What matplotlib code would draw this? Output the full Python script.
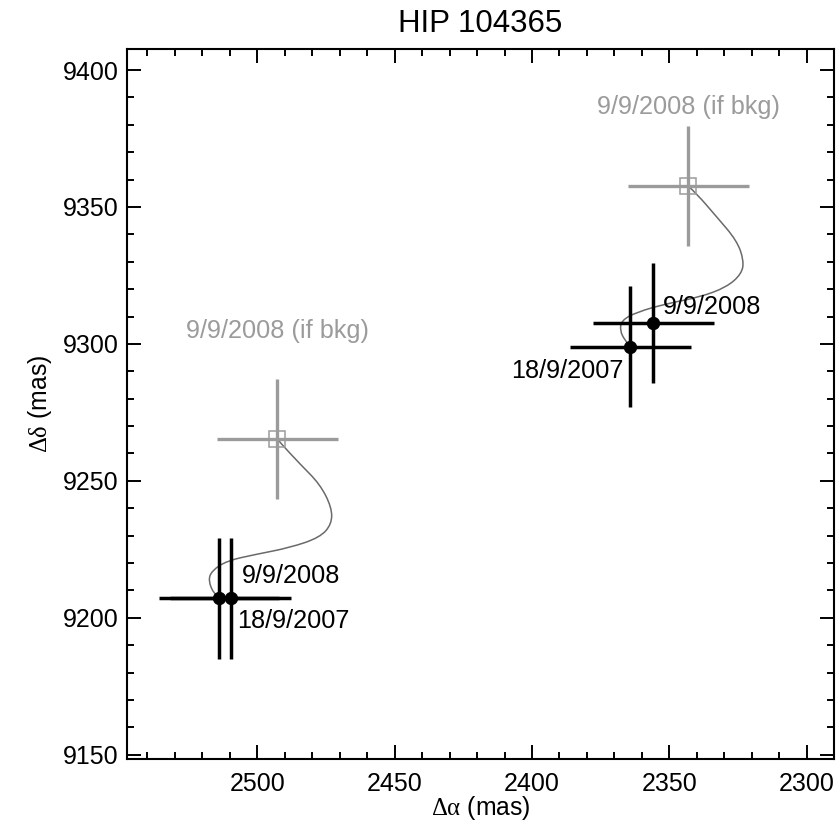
import matplotlib
matplotlib.use("Agg")
import matplotlib.pyplot as plt
from matplotlib.path import Path
from matplotlib.patches import PathPatch
from matplotlib.ticker import MultipleLocator

plt.rcParams['font.family'] = ['Liberation Sans', 'DejaVu Sans']
plt.rcParams['mathtext.fontset'] = 'custom'
plt.rcParams['mathtext.rm'] = 'Liberation Serif'
plt.rcParams['mathtext.it'] = 'Liberation Serif'

# ---- data (mas) ----
title = "HIP 104365"
# observed companion positions (two candidates)
obs_ra_2007 = [2513.9, 2364.3]
obs_dec_2007 = [9207.1, 9299.0]
obs_ra_2008 = [2509.7, 2355.9]
obs_dec_2008 = [9207.1, 9307.6]
obs_err = [22.0, 22.0]
# predicted position if background object
bkg_ra = [2492.7, 2343.1]
bkg_dec = [9265.3, 9357.6]
bkg_err = [22.0, 22.0]
# background tracks (traced)
track1_ra = [2492.7, 2491.7, 2484.4, 2477.2, 2472.9, 2472.9, 2477.2, 2488.1,
             2500.2, 2511.1, 2516.6, 2517.8, 2515.7, 2513.9]
track1_dec = [9265.3, 9264.0, 9256.1, 9248.8, 9240.3, 9234.2, 9229.3, 9225.6,
              9223.2, 9220.8, 9217.1, 9213.5, 9208.6, 9207.1]
track2_ra = [2343.1, 2340.1, 2332.8, 2325.5, 2322.9, 2323.7, 2329.2, 2338.9,
             2351.0, 2361.9, 2367.4, 2368.0, 2366.2, 2364.3]
track2_dec = [9357.6, 9354.9, 9346.4, 9337.8, 9330.5, 9325.6, 9320.7, 9317.1,
              9314.7, 9311.6, 9308.6, 9304.9, 9301.3, 9299.0]
label_2007 = "18/9/2007"
label_2008 = "9/9/2008"
label_bkg = "9/9/2008 (if bkg)"

fig = plt.figure(figsize=(8.38, 8.22), dpi=100)
ax = fig.add_axes([0.1512, 0.0766, 0.8440, 0.8638])

gray = '#9b9b9b'
trackc = '#6a6a6a'


def smooth_path(xs, ys):
    pts = list(zip(xs, ys))
    verts = [pts[0]]
    codes = [Path.MOVETO]
    for i in range(1, len(pts) - 1):
        mid = ((pts[i][0] + pts[i + 1][0]) / 2, (pts[i][1] + pts[i + 1][1]) / 2)
        if i == len(pts) - 2:
            mid = pts[-1]
        verts += [pts[i], mid]
        codes += [Path.CURVE3, Path.CURVE3]
    return Path(verts, codes)


for tra, trd in [(track1_ra, track1_dec), (track2_ra, track2_dec)]:
    ax.add_patch(PathPatch(smooth_path(tra, trd), facecolor='none',
                           edgecolor=trackc, lw=1.1, zorder=2))

# background predictions
ax.errorbar(bkg_ra, bkg_dec, xerr=bkg_err, yerr=bkg_err, fmt='none',
            ecolor=gray, elinewidth=2.4, capsize=0, zorder=3)
ax.plot(bkg_ra, bkg_dec, 's', ms=12, mfc='none', mec=gray, mew=1.1, zorder=4)

# observations
for ra, dec in [(obs_ra_2007, obs_dec_2007), (obs_ra_2008, obs_dec_2008)]:
    ax.errorbar(ra, dec, xerr=obs_err, yerr=obs_err, fmt='none',
                ecolor='black', elinewidth=2.5, capsize=0, zorder=5)
    ax.plot(ra, dec, 'o', ms=8.6, color='black', zorder=6)

fs = 18.2
# labels group 1
ax.annotate(label_2008, (obs_ra_2008[0], obs_dec_2008[0]), xytext=(8, 16),
            textcoords='offset points', ha='left', va='center', fontsize=fs)
ax.annotate(label_2007, (obs_ra_2007[0], obs_dec_2007[0]), xytext=(13, -16.5),
            textcoords='offset points', ha='left', va='center', fontsize=fs)
# labels group 2
ax.annotate(label_2008, (obs_ra_2008[1], obs_dec_2008[1]), xytext=(7, 11.5),
            textcoords='offset points', ha='left', va='center', fontsize=fs)
ax.annotate(label_2007, (obs_ra_2007[1], obs_dec_2007[1]), xytext=(-5, -17.5),
            textcoords='offset points', ha='right', va='center', fontsize=fs)
# bkg labels
ax.annotate(label_bkg, (bkg_ra[0], bkg_dec[0]), xytext=(0, 78),
            textcoords='offset points', ha='center', va='center', fontsize=fs,
            color=gray)
ax.annotate(label_bkg, (bkg_ra[1], bkg_dec[1]), xytext=(0, 57),
            textcoords='offset points', ha='center', va='center', fontsize=fs,
            color=gray)

ax.set_xlim(2547.5, 2290.1)
ax.set_ylim(9148.4, 9407.7)
ax.xaxis.set_major_locator(MultipleLocator(50))
ax.xaxis.set_minor_locator(MultipleLocator(10))
ax.yaxis.set_major_locator(MultipleLocator(50))
ax.yaxis.set_minor_locator(MultipleLocator(10))
ax.tick_params(which='both', direction='in', top=True, right=True, width=1.4,
               labelsize=18)
ax.tick_params(which='major', length=10)
ax.tick_params(which='minor', length=5)
ax.tick_params(axis='y', pad=6)
ax.tick_params(axis='x', pad=9)
for s in ax.spines.values():
    s.set_linewidth(1.5)

ax.set_xlabel(r'$\Delta\alpha$ (mas)', fontsize=17.8, labelpad=-1)
ax.set_ylabel(r'$\Delta\delta$ (mas)', fontsize=17.8, labelpad=6)
ax.set_title(title, fontsize=22.5, pad=12)

fig.savefig('out.png', dpi=100)
